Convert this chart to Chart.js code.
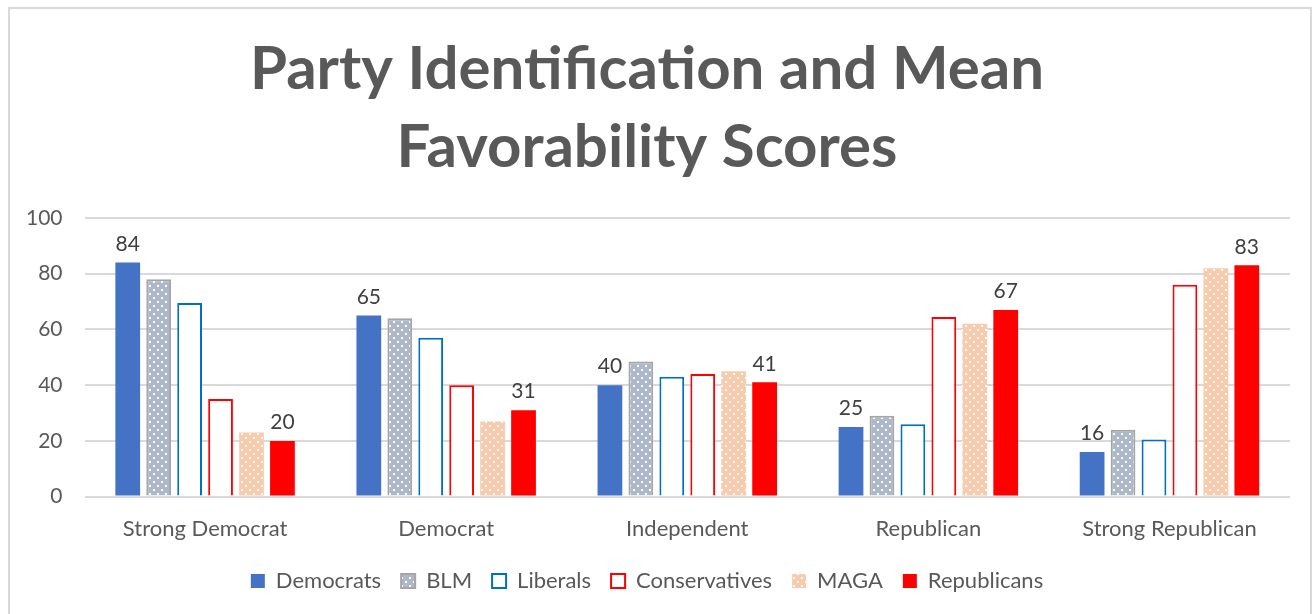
<!DOCTYPE html>
<html>
<head>
<meta charset="utf-8">
<script src="https://cdn.jsdelivr.net/npm/chart.js@4"></script>
<style>
  html, body { margin: 0; padding: 0; background: #fff; }
  #wrap { width: 1312px; height: 614px; position: relative; }
</style>
</head>
<body>
<div id="wrap"><canvas id="chart" width="1312" height="614"></canvas></div>
<script>
const categories = ['Strong Democrat', 'Democrat', 'Independent', 'Republican', 'Strong Republican'];
const democrats = [84, 65, 40, 25, 16];
const blm = [78, 64, 48.5, 29, 24];
const liberals = [69.5, 57, 43, 26, 20.5];
const conservatives = [35, 40, 44, 64.5, 76];
const maga = [23, 27, 45, 62, 82];
const republicans = [20, 31, 41, 67, 83];
const yTicks = [0, 20, 40, 60, 80, 100];

const FONT = 'Lato, "Open Sans", sans-serif';
const TEXT = '#595959';

// dotted fill like the office pattern swatches
function dots(base) {
  const c = document.createElement('canvas');
  c.width = 8; c.height = 8;
  const g = c.getContext('2d');
  g.fillStyle = base;
  g.fillRect(0, 0, 8, 8);
  g.fillStyle = '#fff';
  g.fillRect(1, 1, 2, 2);
  g.fillRect(5, 5, 2, 2);
  return g.createPattern(c, 'repeat');
}
const ctx = document.getElementById('chart').getContext('2d');

const frame = {
  id: 'frame',
  beforeDraw(chart) {
    const g = chart.ctx;
    g.save();
    g.fillStyle = '#fff';
    g.fillRect(0, 0, chart.width, chart.height);
    g.strokeStyle = '#D9D9D9';
    g.lineWidth = 2;
    g.beginPath();
    g.moveTo(9, chart.height + 2);
    g.lineTo(9, 8);
    g.lineTo(chart.width - 1, 8);
    g.lineTo(chart.width - 1, chart.height + 2);
    g.stroke();
    g.restore();
  }
};

// values only on the Democrats and Republicans bars
const valueLabels = {
  id: 'valueLabels',
  afterDatasetsDraw(chart) {
    const g = chart.ctx;
    g.save();
    g.font = '21px ' + FONT;
    g.fillStyle = '#404040';
    g.textAlign = 'center';
    g.textBaseline = 'bottom';
    [0, 5].forEach(i => {
      const meta = chart.getDatasetMeta(i);
      meta.data.forEach((bar, j) => {
        g.fillText(Math.round(chart.data.datasets[i].data[j]), bar.x, bar.y - 8);
      });
    });
    g.restore();
  }
};

const ds = (label, data, bg, border, bw) => ({
  label, data, backgroundColor: bg, borderColor: border, borderWidth: bw,
  categoryPercentage: 0.77, barPercentage: 0.8
});

new Chart(ctx, {
  type: 'bar',
  data: {
    labels: categories,
    datasets: [
      ds('Democrats', democrats, '#4472C4', '#4472C4', 0),
      ds('BLM', blm, dots('#ADB9CA'), '#A5A5A5', 2),
      ds('Liberals', liberals, '#FFFFFF', '#0070C0', 2),
      ds('Conservatives', conservatives, '#FFFFFF', '#FF0000', 2),
      ds('MAGA', maga, dots('#F8CBAD'), '#F8CBAD', 0),
      ds('Republicans', republicans, '#FF0000', '#FF0000', 0)
    ]
  },
  options: {
    responsive: false,
    animation: false,
    layout: { padding: { left: 4, right: 22, top: 31, bottom: 12 } },
    plugins: {
      title: {
        display: true,
        text: ['Party Identification and Mean', 'Favorability Scores'],
        color: TEXT,
        font: { family: FONT, size: 60, weight: 'bold', lineHeight: 1.3 },
        padding: { top: 0, bottom: 31 }
      },
      legend: {
        position: 'bottom',
        labels: {
          color: TEXT,
          font: { family: FONT, size: 22 },
          boxWidth: 14, boxHeight: 14, padding: 20
        }
      },
      tooltip: { enabled: false }
    },
    scales: {
      x: {
        grid: { display: false },
        border: { display: false },
        ticks: { color: TEXT, font: { family: FONT, size: 22 }, padding: 11 },
        afterFit: s => { s.height -= 3; }
      },
      y: {
        min: 0, max: 100,
        afterBuildTicks: axis => { axis.ticks = yTicks.map(v => ({ value: v })); },
        grid: { color: '#D9D9D9', lineWidth: 2, drawTicks: false },
        border: { display: false },
        ticks: { color: TEXT, font: { family: FONT, size: 21 }, padding: 22 }
      }
    }
  },
  plugins: [frame, valueLabels]
});
</script>
</body>
</html>
